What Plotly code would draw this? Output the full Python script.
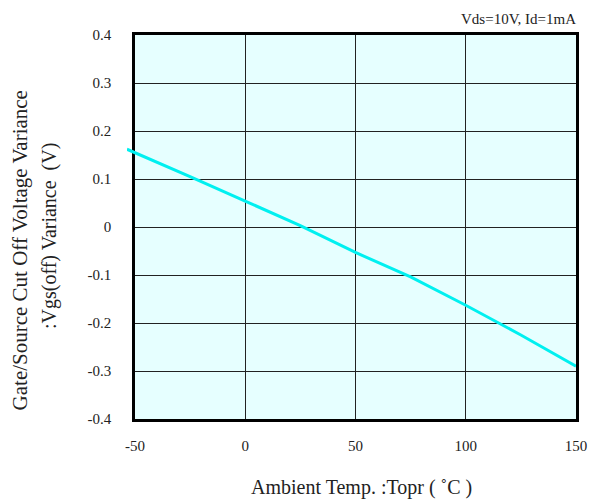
import plotly.graph_objects as go

# Data
temp = [-53.6, -50, -25, 0, 25, 50, 75, 100, 125, 150]
vgs_var = [0.162, 0.155, 0.105, 0.054, 0.003, -0.053, -0.104, -0.163, -0.225, -0.29]

x_ticks = [-50, 0, 50, 100, 150]
x_ticktext = ["-50", "0", "50", "100", "150"]
y_ticks = [0.4, 0.3, 0.2, 0.1, 0, -0.1, -0.2, -0.3, -0.4]
y_ticktext = ["0.4", "0.3", "0.2", "0.1", "0", "-0.1", "-0.2", "-0.3", "-0.4"]

W, H = 599, 499
ml, mr, mt, mb = 127, 17, 35, 80
plot_w = W - ml - mr
plot_h = H - mt - mb
main_w = 447
d0 = (plot_w - main_w) / plot_w
x_range = [-50, 150]
span = (x_range[1] - x_range[0]) * plot_w / main_w
x2_range = [x_range[1] - span, x_range[1]]

FONT = "Liberation Serif, DejaVu Serif, serif"

fig = go.Figure()
# invisible trace to create main subplot
fig.add_trace(go.Scatter(x=x_ticks, y=[0] * len(x_ticks), mode="lines",
                         line=dict(width=0, color="rgba(0,0,0,0)"),
                         hoverinfo="skip", showlegend=False, xaxis="x", yaxis="y"))
fig.add_trace(go.Scatter(x=temp, y=vgs_var, mode="lines",
                         line=dict(color="#00F0F0", width=3),
                         showlegend=False, xaxis="x2", yaxis="y2"))

fig.update_layout(
    width=W, height=H,
    margin=dict(l=ml, r=mr, t=mt, b=mb),
    paper_bgcolor="white",
    plot_bgcolor="rgba(0,0,0,0)",
    font=dict(family=FONT, size=15, color="#222"),
    xaxis=dict(domain=[d0, 1], range=x_range, tickvals=x_ticks, ticktext=x_ticktext,
               showgrid=True, gridcolor="#222", gridwidth=1, zeroline=False,
               showline=True, linecolor="black", linewidth=2.5, mirror=True,
               ticks="outside", ticklen=11, tickcolor="rgba(0,0,0,0)",
               tickfont=dict(size=15), anchor="y"),
    yaxis=dict(domain=[0, 1], range=[-0.4, 0.4], tickvals=y_ticks, ticktext=y_ticktext,
               showgrid=True, gridcolor="#222", gridwidth=1, zeroline=False,
               showline=True, linecolor="black", linewidth=2.5, mirror=True,
               ticks="outside", ticklen=18, tickcolor="rgba(0,0,0,0)",
               tickfont=dict(size=15), anchor="x"),
    xaxis2=dict(domain=[0, 1], range=x2_range, visible=False, showgrid=False,
                zeroline=False, anchor="y2"),
    yaxis2=dict(domain=[0, 1], range=[-0.4, 0.4], visible=False, showgrid=False,
                zeroline=False, anchor="x2"),
    shapes=[dict(type="rect", xref="x domain", yref="y domain", x0=0, x1=1, y0=0, y1=1,
                 fillcolor="#E6FFFF", line=dict(width=0), layer="below")],
    annotations=[
        dict(text="Vds=10V, Id=1mA", xref="paper", yref="paper", x=1.005, y=1.015,
             xanchor="right", yanchor="bottom", showarrow=False, font=dict(size=15)),
        dict(text="Ambient Temp. :Topr ( \u02daC )", xref="paper", yref="paper",
             x=(365 - ml) / plot_w, y=-(487 - (H - mb)) / plot_h, xanchor="center",
             yanchor="middle", showarrow=False, font=dict(size=20)),
        dict(text="Gate/Source Cut Off Voltage Variance", xref="paper", yref="paper",
             x=(19 - ml) / plot_w, y=(H - mb - 250) / plot_h, xanchor="center",
             yanchor="middle", textangle=-90, showarrow=False, font=dict(size=21)),
        dict(text=":Vgs(off) Variance  (V)", xref="paper", yref="paper",
             x=(48 - ml) / plot_w, y=(H - mb - 236) / plot_h, xanchor="center",
             yanchor="middle", textangle=-90, showarrow=False, font=dict(size=20)),
    ],
)

fig.write_html("out.html")
